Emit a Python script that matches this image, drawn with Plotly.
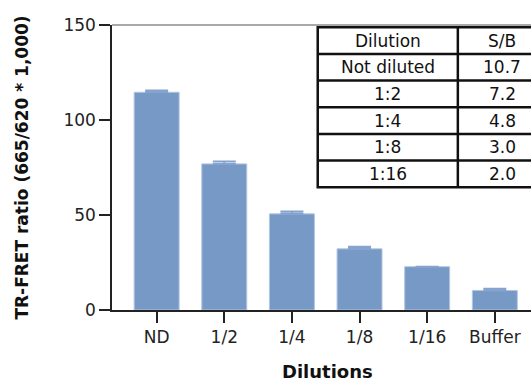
import plotly.graph_objects as go

# ---- data ----
categories = ["ND", "1/2", "1/4", "1/8", "1/16", "Buffer"]
ratio_mean = [114.6, 76.9, 50.6, 32.2, 22.8, 10.3]
ratio_err = [0.9, 1.3, 1.3, 1.1, 0.0, 0.9]
y_ticks = [0, 50, 100, 150]

table_header = ["Dilution", "S/B"]
table_dilution = ["Not diluted", "1:2", "1:4", "1:8", "1:16"]
table_sb = ["10.7", "7.2", "4.8", "3.0", "2.0"]

FONT = "DejaVu Sans"
BAR = "#7799c5"

fig = go.Figure()
fig.add_trace(go.Bar(
    x=categories, y=ratio_mean,
    marker=dict(color=BAR, line=dict(color="#b3c6e2", width=1)),
    error_y=dict(type="data", array=ratio_err, arrayminus=[0] * len(ratio_err),
                 symmetric=False, color="#86a3cf", thickness=2, width=11.5),
    showlegend=False, hoverinfo="skip",
))

# ---- table built from the data lists ----
x0, x1, x2 = 0.491, 0.8254, 1.02        # column edges (paper)
ytop, row_h = 0.9919, 0.0935            # top and row height (paper)
rows = [table_header] + [[d, s] for d, s in zip(table_dilution, table_sb)]
n = len(rows)
shapes = []
line = dict(color="#111111", width=2.5)
shapes.append(dict(type="rect", xref="paper", yref="paper", x0=x0, x1=x2,
                   y0=ytop - n * row_h, y1=ytop, line=line, fillcolor="white", layer="above"))
shapes.append(dict(type="line", xref="paper", yref="paper", x0=x1, x1=x1,
                   y0=ytop - n * row_h, y1=ytop, line=line, layer="above"))
for i in range(1, n):
    y = ytop - i * row_h
    shapes.append(dict(type="line", xref="paper", yref="paper", x0=x0, x1=x2,
                       y0=y, y1=y, line=line, layer="above"))
shapes.append(dict(type="line", xref="paper", yref="paper", x0=0, x1=1, y0=1, y1=1,
                   line=dict(color="#8c8c8c", width=1.5), layer="below"))

annotations = []
for i, (a, b) in enumerate(rows):
    yc = ytop - (i + 0.5) * row_h
    annotations.append(dict(xref="paper", yref="paper", x=(x0 + x1) / 2, y=yc,
                            xanchor="center", yanchor="middle", text=a,
                            showarrow=False, font=dict(family=FONT, size=17, color="#111")))
    annotations.append(dict(xref="paper", yref="paper", x=(x1 + 1.0367) / 2, y=yc,
                            xanchor="center", yanchor="middle", text=b,
                            showarrow=False, font=dict(family=FONT, size=17, color="#111")))
annotations.append(dict(xref="paper", yref="paper", x=0.5135, y=-0.215, yanchor="middle",
                        xanchor="center", text="<b>Dilutions</b>", showarrow=False,
                        font=dict(family=FONT, size=18, color="#111")))

fig.update_layout(
    width=531, height=381, autosize=False,
    margin=dict(l=112, r=0, t=25, b=71, autoexpand=False),
    plot_bgcolor="white", paper_bgcolor="white",
    bargap=0.335,
    font=dict(family=FONT, size=17, color="#222"),
    shapes=shapes, annotations=annotations,
    xaxis=dict(range=[-0.66, 5.535], showline=True, linecolor="#222", linewidth=2,
               ticks="outside", ticklen=11, tickwidth=1.5, tickcolor="#222",
               showgrid=False, zeroline=False, automargin=False,
               tickfont=dict(family=FONT, size=17, color="#222")),
    yaxis=dict(range=[0, 150], tickvals=y_ticks, showline=True, linecolor="#222", linewidth=1.5,
               ticks="outside", ticklen=11, tickwidth=1.5, tickcolor="#222",
               showgrid=False, zeroline=False, automargin=False,
               tickfont=dict(family=FONT, size=17, color="#222"),
               title=dict(text="<b>TR-FRET ratio (665/620 * 1,000)</b>", standoff=30,
                          font=dict(family=FONT, size=17, color="#111"))),
)

fig.write_html("out.html", config={"displayModeBar": False},
               post_script="document.body.style.margin='0px';document.body.style.padding='0px';"
                           "document.body.style.overflow='hidden';")
